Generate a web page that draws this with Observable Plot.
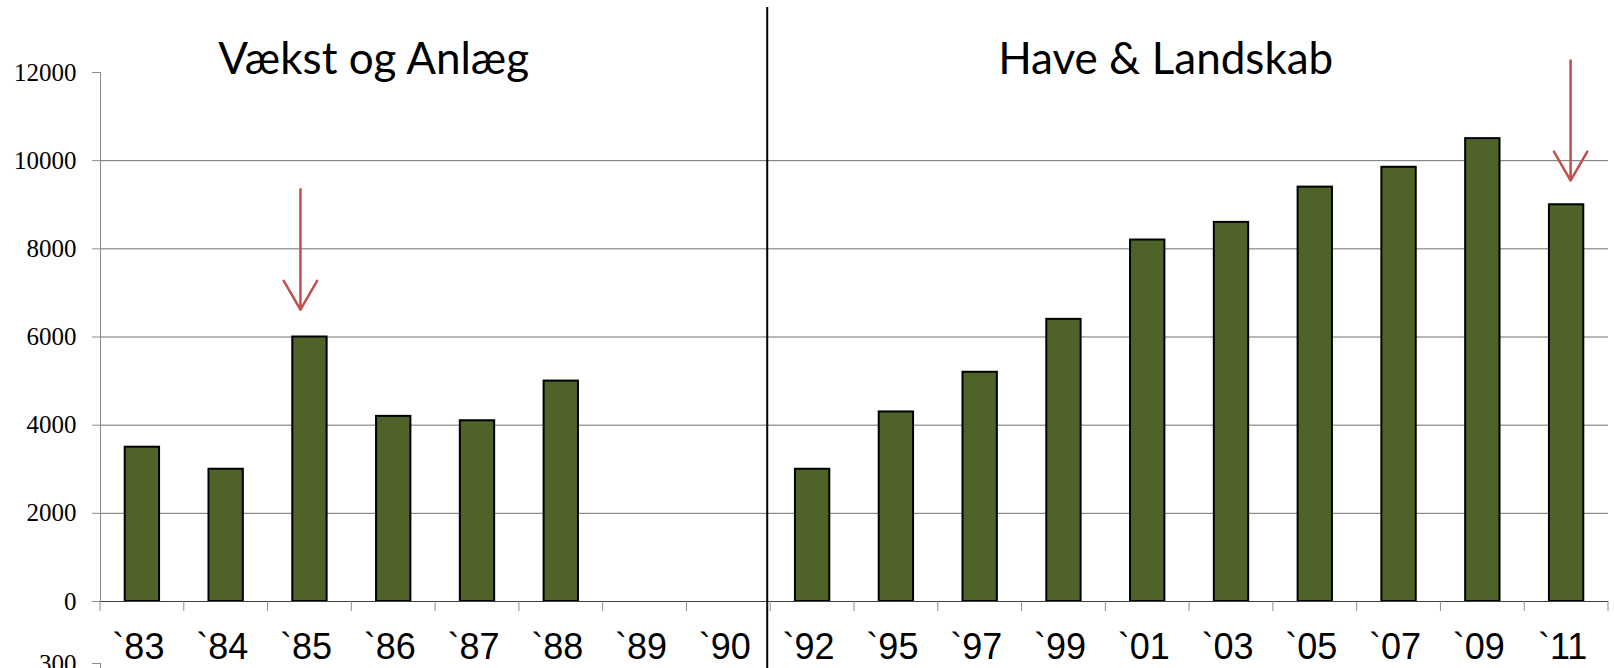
<!DOCTYPE html>
<html><head><meta charset="utf-8">
<script src="https://cdn.jsdelivr.net/npm/d3@7"></script>
<script src="https://cdn.jsdelivr.net/npm/@observablehq/plot@0.6"></script>
<style>body{margin:0;background:#fff;overflow:hidden} #wrap{position:relative;width:1614px;height:668px;overflow:hidden} #next{position:absolute;left:0;top:653px}</style>
</head><body><div id="wrap"><div id="chart"></div><div id="next"></div></div>
<script>
const years = ["`83","`84","`85","`86","`87","`88","`89","`90","`92","`95","`97","`99","`01","`03","`05","`07","`09","`11"];
const counts = [3500,3000,6000,4200,4100,5000,null,null,3000,4300,5200,6400,8200,8600,9400,9850,10500,9000];
const yTicks = [0,2000,4000,6000,8000,10000,12000];
const gridTicks = [2000,4000,6000,8000,10000];
const titles = ["Vækst og Anlæg","Have & Landskab"];
const titleNear = ["`86","`01"];
const arrowYears = ["`85","`11"];
const arrowFrom = [9350, 12270];
const arrowTo = [6620, 9550];
const dividerBefore = "`92";
// top tick of the next (cut-off) chart below
const nextChartTicks = [300];

const data = years.map((year, i) => ({year, count: counts[i]})).filter(d => d.count != null);

const plot = Plot.plot({
  width: 1614, height: 668,
  marginLeft: 100, marginRight: 6, marginTop: 72, marginBottom: 67,
  style: {background: "white", overflow: "visible"},
  x: {domain: years, paddingInner: 0.59, paddingOuter: 0.295, align: 0.5, round: false},
  y: {domain: [0, 12000]},
  marks: [
    Plot.gridY(gridTicks, {stroke: "#707070", strokeOpacity: 1}),
    Plot.frame({anchor: "left", stroke: "#8c8c8c"}),
    Plot.axisY(yTicks, {tickSize: 8, tickPadding: 16, tickFormat: d => String(d), fontSize: 25, fontFamily: "Liberation Serif", stroke: "#8c8c8c", fill: "black", label: null}),
    Plot.axisX({tickSize: 0, tickPadding: 32, fontSize: 36, fontFamily: "Liberation Sans", label: null, fill: "black", dx: -4}),
    Plot.barY(data, {x: "year", y: "count", fill: "#4F6228", stroke: "black", strokeWidth: 2}),
    Plot.ruleY([0], {stroke: "#404040"}),
    ...arrowYears.map((yr, i) => Plot.arrow([i], {
      x1: () => yr, x2: () => yr, y1: () => arrowFrom[i], y2: () => arrowTo[i],
      stroke: "#C0504D", strokeWidth: 2.5, headLength: 20, headAngle: 60, dx: i === 0 ? -9.5 : 4
    })),
    ...titles.map((t, i) => Plot.text([t], {
      x: () => titleNear[i], y: () => 12000, text: d => d, lineAnchor: "bottom",
      fontSize: 44, fontFamily: "Lato", fill: "black", dx: i === 0 ? -20 : 18, dy: 1
    })),
    (index, scales, values, dim) => {
      const x = scales.x, y = scales.y;
      const half = (x.step() - x.bandwidth()) / 2;
      const bounds = years.map(c => x(c) - half);
      bounds.push(x(years[years.length - 1]) + x.bandwidth() + half);
      const y0 = y(0);
      const g = d3.create("svg:g");
      g.selectAll("line.t").data(bounds).join("line")
        .attr("x1", d => d).attr("x2", d => d).attr("y1", y0).attr("y2", y0 + 10)
        .attr("stroke", "#8c8c8c");
      const xd = x(dividerBefore) - half - 3;
      g.append("line").attr("x1", xd).attr("x2", xd)
        .attr("y1", dim.marginTop - 65).attr("y2", dim.height)
        .attr("stroke", "black").attr("stroke-width", 2);
      return g.node();
    }
  ]
});
document.getElementById("chart").appendChild(plot);

const next = Plot.plot({
  width: 1614, height: 200,
  marginLeft: 100, marginRight: 6, marginTop: 10, marginBottom: 10,
  style: {background: "transparent", overflow: "visible"},
  y: {domain: [0, 300]},
  marks: [
    Plot.frame({anchor: "left", stroke: "#8c8c8c"}),
    Plot.axisY(nextChartTicks, {tickSize: 8, tickPadding: 16, tickFormat: d => String(d), fontSize: 25, fontFamily: "Liberation Serif", stroke: "#8c8c8c", fill: "black", label: null})
  ]
});
document.getElementById("next").appendChild(next);
</script>
</body></html>
